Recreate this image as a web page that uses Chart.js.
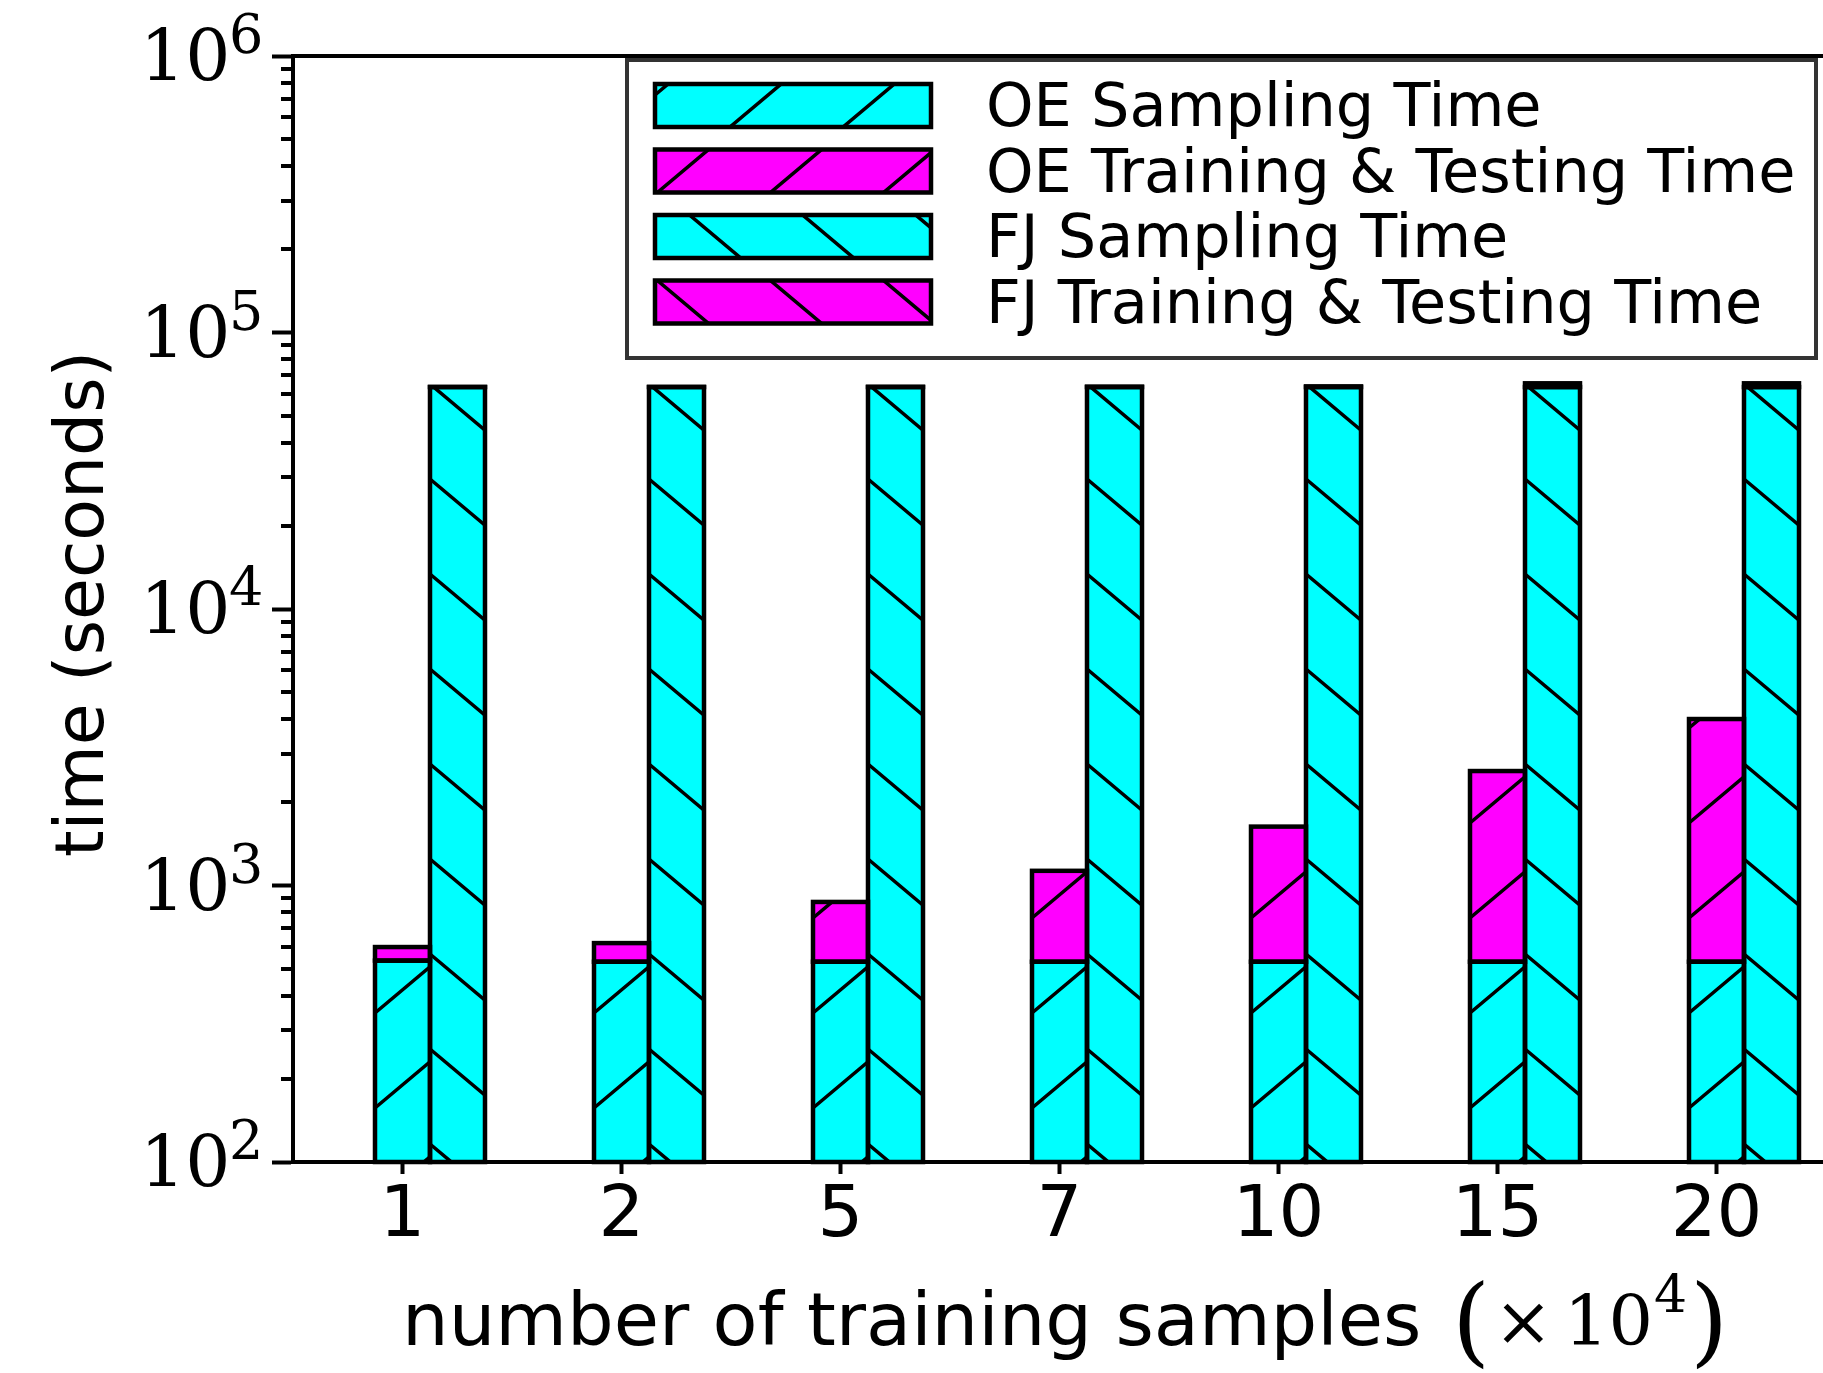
<!DOCTYPE html>
<html>
<head>
<meta charset="utf-8">
<title>OE vs FJ time</title>
<script src="https://cdn.jsdelivr.net/npm/chart.js@4.4.1/dist/chart.umd.min.js"></script>
<style>
  html, body { margin: 0; padding: 0; background: #fff; overflow: hidden; }
  #wrap { width: 1830px; height: 1373px; }
  canvas { display: block; }
</style>
</head>
<body>
<div id="wrap"><canvas id="timeChart" width="1830" height="1373"></canvas></div>
<script>
// ═══════════════════════════════════════════════════════════
// Data — seconds
// ═══════════════════════════════════════════════════════════
const CATEGORIES  = ['1', '2', '5', '7', '10', '15', '20'];
const OE_SAMPLING = [535, 530, 530, 530, 530, 530, 530];
const OE_TRAINING = [64, 89, 342, 600, 1103, 2064, 3470];
const FJ_SAMPLING = [63500, 63500, 63500, 63500, 63500, 63500, 63500];
const FJ_TRAINING = [40, 60, 120, 200, 350, 2000, 2000];
const Y_TICKS     = [1e2, 1e3, 1e4, 1e5, 1e6];
const Y_EXPONENTS = ['2', '3', '4', '5', '6'];
const SERIES      = ['OE Sampling Time', 'OE Training & Testing Time', 'FJ Sampling Time', 'FJ Training & Testing Time'];

const CYAN = '#00ffff', MAGENTA = '#ff00ff';
const SANS  = '"DejaVu Sans", sans-serif';
const SERIF = '"DejaVu Serif", serif';
const HATCH_SLOPE = 0.84, HATCH_PERIOD = 95;

// diagonal hatch clipped to a rect, phase measured from (L, base)
function hatch(ctx, L, T, R, B, dir, base, c0) {
  const rise = HATCH_SLOPE * (R - L);
  ctx.save();
  ctx.beginPath();
  ctx.rect(L, T, R - L, B - T);
  ctx.clip();
  ctx.strokeStyle = '#000';
  ctx.lineWidth = 3.5;
  ctx.beginPath();
  const cmin = base - B - rise - HATCH_PERIOD, cmax = base - T + rise + HATCH_PERIOD;
  const k = Math.floor((cmin - c0) / HATCH_PERIOD);
  for (let c = c0 + k * HATCH_PERIOD; c <= cmax; c += HATCH_PERIOD) {
    ctx.moveTo(L, base - c);
    ctx.lineTo(R, dir === '/' ? base - c - rise : base - c + rise);
  }
  ctx.stroke();
  ctx.restore();
}

const decor = {
  id: 'decor',
  afterDatasetsDraw(chart) {
    const ctx = chart.ctx, base = chart.chartArea.bottom;
    chart.data.datasets.forEach((ds, i) => {
      if (!ds.hatch) return;
      chart.getDatasetMeta(i).data.forEach(bar => {
        const p = bar.getProps(['x', 'y', 'base', 'width'], true);
        if (p.y == null || isNaN(p.y)) return;
        const L = p.x - p.width / 2, R = p.x + p.width / 2;
        const T = Math.min(p.y, p.base), B = Math.max(p.y, p.base);
        hatch(ctx, L, T, R, B, ds.hatch, base, ds.phase);
        ctx.save();
        ctx.strokeStyle = '#000';
        ctx.lineWidth = 4.5;
        ctx.strokeRect(L, T, R - L, B - T);
        ctx.restore();
      });
    });
  },
  afterDraw(chart) {
    const ctx = chart.ctx, ca = chart.chartArea, ys = chart.scales.y;
    ctx.save();

    // top / right frame
    ctx.strokeStyle = '#000';
    ctx.lineWidth = 4;
    ctx.beginPath();
    ctx.moveTo(ca.left - 2, ca.top);
    ctx.lineTo(ca.right, ca.top);
    ctx.lineTo(ca.right, ca.bottom);
    ctx.stroke();

    // minor log ticks
    ctx.beginPath();
    for (let p = 2; p < 6; p++) {
      for (let m = 2; m <= 9; m++) {
        const py = Math.round(ys.getPixelForValue(m * Math.pow(10, p)));
        ctx.moveTo(ca.left - 12, py);
        ctx.lineTo(ca.left, py);
      }
    }
    ctx.stroke();

    // y tick labels 10^n
    ctx.fillStyle = '#000';
    ctx.textAlign = 'left';
    ctx.textBaseline = 'alphabetic';
    Y_TICKS.forEach((v, i) => {
      const py = ys.getPixelForValue(v);
      ctx.font = `71px ${SERIF}`;
      ctx.fillText('10', 140, py + 24);
      ctx.font = `54px ${SERIF}`;
      ctx.fillText(Y_EXPONENTS[i], 229, py - 3);
    });

    // y title
    ctx.save();
    ctx.translate(103, 604);
    ctx.rotate(-Math.PI / 2);
    ctx.textAlign = 'center';
    ctx.font = `68px ${SANS}`;
    ctx.fillText('time (seconds)', 0, 0);
    ctx.restore();

    // x title
    ctx.textAlign = 'left';
    ctx.font = `73.6px ${SANS}`;
    ctx.fillText('number of training samples', 402, 1345);
    ctx.font = `98px ${SERIF}`;
    ctx.fillText('(', 1452, 1354);
    ctx.fillText(')', 1690, 1354);
    ctx.font = `70px ${SERIF}`;
    ctx.fillText('\u00d7', 1494, 1345);
    ctx.fillText('10', 1564, 1345);
    ctx.font = `52px ${SERIF}`;
    ctx.fillText('4', 1654, 1312);

    // legend
    const lg = { x: 627, y: 60, w: 1189, h: 298 };
    ctx.fillStyle = '#fff';
    ctx.fillRect(lg.x, lg.y, lg.w, lg.h);
    ctx.strokeStyle = '#333';
    ctx.lineWidth = 4;
    ctx.strokeRect(lg.x, lg.y, lg.w, lg.h);
    const rowTops = [84, 149.5, 215, 280.5];
    chart.data.datasets.filter(ds => ds.hatch).forEach((ds, i) => {
      const L = 655, R = 931, T = rowTops[i], B = T + 43;
      ctx.fillStyle = ds.backgroundColor;
      ctx.fillRect(L, T, R - L, B - T);
      hatch(ctx, L, T, R, B, ds.hatch, B, ds.legendPhase);
      ctx.strokeStyle = '#000';
      ctx.lineWidth = 4.5;
      ctx.strokeRect(L, T, R - L, B - T);
      ctx.fillStyle = '#000';
      ctx.font = `60.5px ${SANS}`;
      ctx.fillText(ds.label, 986, B - 1);
    });

    ctx.restore();
  }
};

new Chart(document.getElementById('timeChart'), {
  type: 'bar',
  data: {
    labels: CATEGORIES,
    datasets: [
      // empty left slot so the OE stack sits on the tick
      { label: '', data: CATEGORIES.map(() => null), stack: 'pad', backgroundColor: 'rgba(0,0,0,0)' },
      { label: SERIES[0], data: OE_SAMPLING, stack: 'oe', backgroundColor: CYAN,    hatch: '/',  phase: 54, legendPhase: 32 },
      { label: SERIES[1], data: OE_TRAINING, stack: 'oe', backgroundColor: MAGENTA, hatch: '/',  phase: 54, legendPhase: 93 },
      { label: SERIES[2], data: FJ_SAMPLING, stack: 'fj', backgroundColor: CYAN,    hatch: '\\', phase: 18, legendPhase: 72 },
      { label: SERIES[3], data: FJ_TRAINING, stack: 'fj', backgroundColor: MAGENTA, hatch: '\\', phase: 18, legendPhase: 45 }
    ]
  },
  options: {
    responsive: false,
    animation: false,
    devicePixelRatio: 1,
    layout: { padding: { top: 56, right: 4, left: 0, bottom: 0 } },
    datasets: { bar: { categoryPercentage: 0.7534, barPercentage: 1, borderWidth: 0 } },
    plugins: { legend: { display: false }, tooltip: { enabled: false } },
    scales: {
      x: {
        stacked: true,
        offset: true,
        grid: { drawOnChartArea: false, offset: false, tickLength: 12, tickWidth: 4, tickColor: '#000' },
        border: { color: '#000', width: 4 },
        ticks: { color: '#000', font: { family: SANS, size: 72 }, padding: 0, maxRotation: 0, autoSkip: false },
        afterFit: s => { s.height = 211; }
      },
      y: {
        type: 'logarithmic',
        stacked: true,
        min: 100,
        max: 1e6,
        grid: { drawOnChartArea: false, tickLength: 21, tickWidth: 4, tickColor: '#000' },
        border: { color: '#000', width: 4 },
        ticks: { display: false },
        afterBuildTicks: s => { s.ticks = Y_TICKS.map(v => ({ value: v })); },
        afterFit: s => { s.width = 293; }
      }
    }
  },
  plugins: [decor]
});
</script>
</body>
</html>
